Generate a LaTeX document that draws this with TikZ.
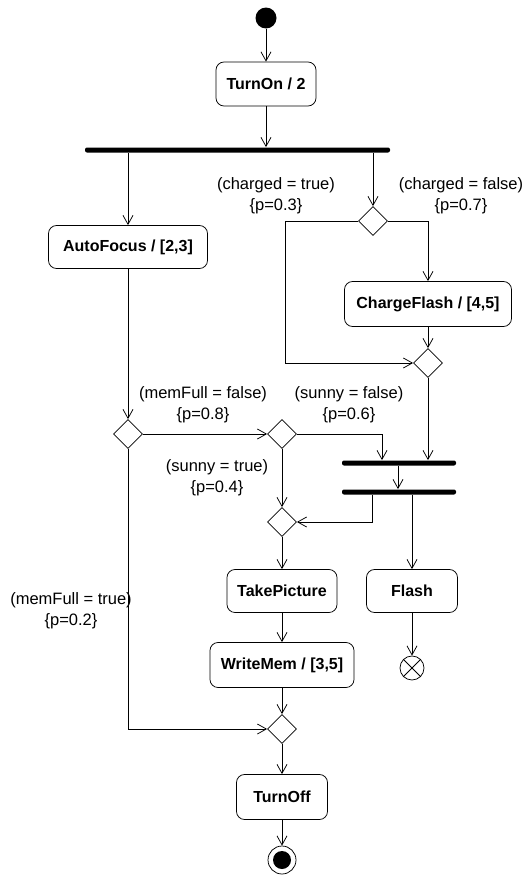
\documentclass[tikz,border=0pt]{standalone}
\usepackage{fontspec}
\setmainfont{Liberation Sans}
\usetikzlibrary{arrows.meta,shapes.geometric}
\begin{document}
\begin{tikzpicture}[x=1pt,y=-1pt,
  line width=0.75pt,
  flow/.style={-{Straight Barb[length=9pt,width=10pt,line width=0.75pt]}},
  act/.style={draw,rounded corners=8pt,inner sep=0pt,minimum height=44pt,
    font=\fontsize{16}{18}\selectfont\bfseries},
  bar/.style={fill=black,rounded corners=2pt,inner sep=0pt,minimum height=5pt},
  choice/.style={draw,diamond,aspect=1,inner sep=0pt,minimum width=29pt,minimum height=29pt},
  guard/.style={align=center,font=\fontsize{16.5}{21}\selectfont,inner sep=0pt}]
\useasboundingbox (0,0) rectangle (525,878);

% initial node
\node[circle,fill=black,inner sep=0pt,minimum size=21pt] (start) at (266,18) {};

% actions
\node[act,minimum width=100pt] (turnon) at (266,84) {TurnOn / 2};
\node[act,minimum width=159pt,minimum height=43pt] (autofocus) at (128,247) {AutoFocus / [2,3]};
\node[act,minimum width=167pt,minimum height=45pt] (chargeflash) at (428,304) {ChargeFlash / [4,5]};
\node[act,minimum width=110pt,minimum height=43pt] (takepicture) at (282,591) {TakePicture};
\node[act,minimum width=91pt,minimum height=43pt] (flash) at (412,591) {Flash};
\node[act,minimum width=144pt,minimum height=45pt] (writemem) at (282,665) {WriteMem / [3,5]};
\node[act,minimum width=91pt,minimum height=45pt] (turnoff) at (282,797) {TurnOff};

% fork / join bars
\node[bar,minimum width=305pt] (fork1) at (237.5,150) {};
\node[bar,minimum width=114pt] (join1) at (399,463) {};
\node[bar,minimum width=114pt] (fork2) at (399,492) {};

% decision / merge nodes
\node[choice] (dcharged) at (373,221) {};
\node[choice] (mcharged) at (428,363) {};
\node[choice] (dmem) at (128,434) {};
\node[choice] (dsunny) at (282,434) {};
\node[choice] (msunny) at (282,522) {};
\node[choice] (mmem) at (282,729) {};

% final nodes
\node[circle,draw,inner sep=0pt,minimum size=24pt] (flowend) at (412,668) {};
\draw (flowend.45) -- (flowend.225) (flowend.135) -- (flowend.315);
\node[circle,draw,inner sep=0pt,minimum size=28pt] (final) at (282,860) {};
\fill (final) circle (9pt);

% bend points
\coordinate (chargedleft) at (285,221);
\coordinate (sunnyright) at (382,434);
\coordinate (joinout) at (398,0);
\coordinate (forkleft) at (372,0);

% connectors
\draw[flow] (start) -- (turnon);
\draw[flow] (turnon) -- (turnon |- fork1.north);
\draw[flow] (fork1.south -| autofocus) -- (autofocus);
\draw[flow] (fork1.south -| dcharged) -- (dcharged);
\draw (dcharged.west) -- (chargedleft);
\draw[flow] (chargedleft) |- (mcharged.west);
\draw[flow] (dcharged.east) -| (chargeflash.north);
\draw[flow] (chargeflash) -- (mcharged);
\draw[flow] (mcharged) -- (mcharged |- join1.north);
\draw[flow] (autofocus) -- (dmem);
\draw[flow] (dmem.east) -- (dsunny.west);
\draw[flow] (dsunny.east) -| (join1.north -| sunnyright);
\draw[flow] (join1.south -| joinout) -- (fork2.north -| joinout);
\draw[flow] (fork2.south -| forkleft) |- (msunny.east);
\draw[flow] (dsunny) -- (msunny);
\draw[flow] (fork2.south -| flash) -- (flash);
\draw[flow] (flash) -- (flowend);
\draw[flow] (msunny) -- (takepicture);
\draw[flow] (takepicture) -- (writemem);
\draw[flow] (writemem) -- (mmem);
\draw[flow] (dmem.south) |- (mmem.west);
\draw[flow] (mmem) -- (turnoff);
\draw[flow] (turnoff) -- (final);

% guards
\node[guard] (gct) at (276,196) {(charged = true)\\\{p=0.3\}};
\node[guard] (gcf) at (461,196) {(charged = false)\\\{p=0.7\}};
\node[guard] (gmf) at (203,405) {(memFull = false)\\\{p=0.8\}};
\node[guard] (gsf) at (349,405) {(sunny = false)\\\{p=0.6\}};
\node[guard] (gst) at (217,478) {(sunny = true)\\\{p=0.4\}};
\node[guard] (gmt) at (71,611) {(memFull = true)\\\{p=0.2\}};
\end{tikzpicture}
\end{document}
